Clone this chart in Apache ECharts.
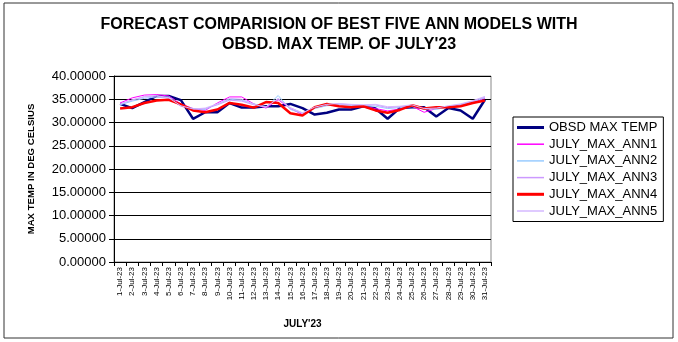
<!DOCTYPE html>
<html><head><meta charset="utf-8">
<script src="https://cdn.jsdelivr.net/npm/echarts@6/dist/echarts.min.js"></script>
<style>html,body{margin:0;padding:0;background:#fff}#c{width:678px;height:342px}</style>
</head><body><div id="c"></div>
<script>
const categories = ['1-Jul-23','2-Jul-23','3-Jul-23','4-Jul-23','5-Jul-23','6-Jul-23','7-Jul-23','8-Jul-23','9-Jul-23','10-Jul-23','11-Jul-23','12-Jul-23','13-Jul-23','14-Jul-23','15-Jul-23','16-Jul-23','17-Jul-23','18-Jul-23','19-Jul-23','20-Jul-23','21-Jul-23','22-Jul-23','23-Jul-23','24-Jul-23','25-Jul-23','26-Jul-23','27-Jul-23','28-Jul-23','29-Jul-23','30-Jul-23','31-Jul-23'];
const obsd = [34.0,33.1,34.4,35.7,35.7,34.8,30.8,32.2,32.2,34.2,33.2,33.2,33.5,33.5,34.0,33.1,31.7,32.1,32.8,32.8,33.5,33.0,30.8,33.1,33.3,33.3,31.3,33.1,32.6,30.8,34.9];
const ann1 = [34.2,35.3,35.9,36.0,35.7,34.0,33.0,32.6,34.2,35.5,35.5,34.0,33.1,34.9,33.0,31.7,33.2,33.8,33.5,33.3,33.5,33.0,32.5,32.9,33.5,32.2,33.0,33.3,33.6,34.3,35.2];
const ann2 = [33.8,34.6,35.2,35.5,35.5,33.8,33.0,32.8,34.0,35.0,34.8,34.0,33.3,35.8,32.8,32.0,33.0,33.6,33.8,33.7,33.6,33.5,33.0,33.2,33.4,33.2,32.8,33.4,33.8,34.5,35.3];
const ann3 = [34.0,34.8,35.5,35.7,35.2,33.5,32.8,33.0,33.8,34.8,34.6,33.8,33.4,35.0,33.2,32.0,33.2,33.8,34.0,33.8,33.7,33.8,33.2,33.4,33.6,32.8,33.0,33.5,33.9,34.6,35.5];
const ann4 = [33.0,33.3,34.2,34.75,34.9,33.9,32.6,32.2,32.8,34.2,33.8,33.2,34.4,34.2,32.0,31.5,33.3,34.0,33.5,33.3,33.5,32.6,32.1,32.7,33.7,33.0,33.3,33.3,33.5,34.2,34.75];
const ann5 = [33.9,34.9,35.6,35.8,35.3,33.6,32.9,33.1,34.0,35.2,35.0,33.9,33.3,35.2,33.1,32.1,33.3,33.9,34.1,33.9,33.8,33.9,33.4,33.5,33.8,33.0,33.1,33.6,34.0,34.7,35.6];
const yTicks = {min:0, max:40, interval:5};
const seriesNames = ['OBSD MAX TEMP','JULY_MAX_ANN1','JULY_MAX_ANN2','JULY_MAX_ANN3','JULY_MAX_ANN4','JULY_MAX_ANN5'];

const chart = echarts.init(document.getElementById('c'), null, {renderer:'canvas'});
const ff = 'Liberation Sans, Arial, sans-serif';
const thick = 'path://M0,0h27v3h-27z', thin = 'path://M0,0h27v1.5h-27z';
function s(name, data, color, width){
  return {name, type:'line', data, symbol:'none', animation:false,
    lineStyle:{color, width}, itemStyle:{color}};
}
chart.setOption({
  animation:false,
  backgroundColor:'#fff',
  graphic:[{type:'rect', shape:{x:4,y:3,width:669,height:335}, style:{fill:null, stroke:'#333', lineWidth:1}, silent:true}],
  title:{text:"FORECAST COMPARISION OF BEST FIVE ANN MODELS WITH\nOBSD. MAX TEMP. OF JULY'23", left:'center', top:10,
    textStyle:{fontFamily:ff, fontSize:16, fontWeight:'bold', color:'#000', lineHeight:20}},
  legend:{orient:'vertical', left:513, top:117,
    data:[
      {name:seriesNames[0], icon:thick}, {name:seriesNames[1], icon:thin}, {name:seriesNames[2], icon:thin},
      {name:seriesNames[3], icon:thin}, {name:seriesNames[4], icon:thick}, {name:seriesNames[5], icon:thin}],
    itemWidth:27, itemHeight:10, itemGap:3.7, borderColor:'#000', borderWidth:1, padding:[4,6,4,4], backgroundColor:'#fff',
    textStyle:{fontFamily:ff, fontSize:13, color:'#000'}},
  grid:{left:114, top:76, width:377, height:186, show:true, borderColor:'#888', borderWidth:1, backgroundColor:'transparent'},
  xAxis:{type:'category', data:categories, boundaryGap:true, name:"JULY'23", nameLocation:'middle', nameGap:57,
    nameTextStyle:{fontFamily:ff, fontSize:10, fontWeight:'bold', color:'#000'},
    axisLine:{lineStyle:{color:'#000'}}, axisTick:{show:true, interval:0, length:4, lineStyle:{color:'#000'}},
    axisLabel:{rotate:90, interval:0, fontFamily:ff, fontSize:8, color:'#000', margin:5}},
  yAxis:{type:'value', min:yTicks.min, max:yTicks.max, interval:yTicks.interval, name:'MAX TEMP IN DEG CELSIUS', nameLocation:'middle', nameGap:78,
    nameTextStyle:{fontFamily:ff, fontSize:9.6, fontWeight:'bold', color:'#000'},
    axisLine:{show:true, lineStyle:{color:'#000'}}, axisTick:{show:true, length:5, lineStyle:{color:'#000'}},
    splitLine:{lineStyle:{color:'#000', width:1}},
    axisLabel:{formatter:v=>v.toFixed(5), fontFamily:ff, fontSize:13, color:'#000', margin:8}},
  series:[
    s(seriesNames[0], obsd, '#000080', 2.5),
    s(seriesNames[1], ann1, '#FF00FF', 1),
    s(seriesNames[2], ann2, '#99CCFF', 1),
    s(seriesNames[3], ann3, '#CC99FF', 1),
    s(seriesNames[4], ann4, '#FF0000', 2.5),
    s(seriesNames[5], ann5, '#D4B8FF', 1)
  ]
});
</script></body></html>
